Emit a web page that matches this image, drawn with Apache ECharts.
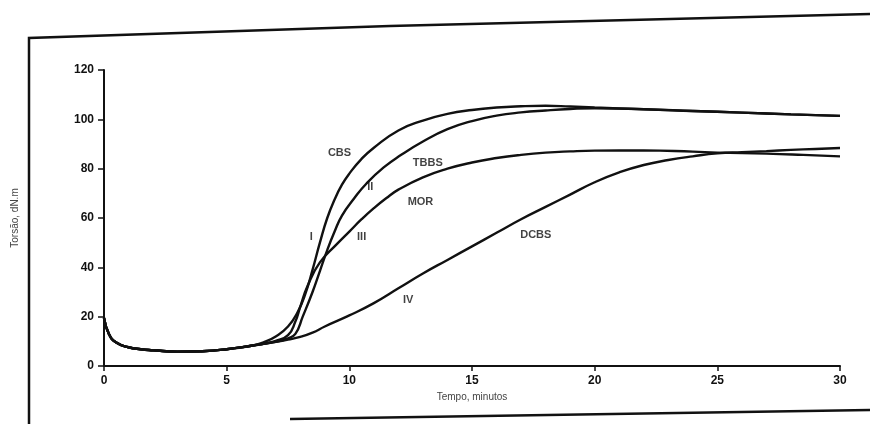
<!DOCTYPE html>
<html>
<head>
<meta charset="utf-8">
<script src="https://cdn.jsdelivr.net/npm/echarts@6/dist/echarts.min.js"></script>
<style>
  html, body { margin: 0; padding: 0; background: #fff; }
  #chart { width: 870px; height: 424px; }
</style>
</head>
<body>
<div id="chart"></div>
<script>
  // trecho comum (antes da vulcanização)
  const inicioTempo = [0, 0.2, 0.5, 1, 1.5, 2, 3, 4, 5, 6];
  const inicioTorsao = [19.5, 13, 9.5, 7.6, 6.8, 6.4, 5.8, 6.0, 6.8, 8.2];

  const cbsTempo = [6.5, 7, 7.5, 7.9, 8.2, 8.5, 8.8, 9.1, 9.4, 9.7, 10, 10.5, 11, 12, 13, 14, 15, 16, 17, 18, 19, 20, 22, 24, 26, 28, 30];
  const cbsTorsao = [9.6, 12, 16, 22, 29, 39, 50, 60, 67.5, 73.5, 78, 84, 88.5, 95.5, 99.5, 102.2, 103.8, 104.8, 105.3, 105.5, 105.2, 104.8, 104.1, 103.4, 102.7, 102, 101.4];

  const tbbsTempo = [6.5, 7, 7.5, 7.8, 8.1, 8.5, 8.8, 9.1, 9.4, 9.7, 10.2, 10.7, 11.4, 12.1, 13, 14, 15, 16, 17, 18, 19, 20, 22, 24, 26, 28, 30];
  const tbbsTorsao = [9.0, 9.8, 11.2, 13, 20, 30, 38.5, 47, 54.5, 61, 68, 74, 80.5, 85.5, 91, 96, 99.3, 101.5, 102.8, 103.6, 104.2, 104.5, 104.1, 103.4, 102.7, 102, 101.4];

  const morTempo = [6.5, 7, 7.5, 7.8, 8, 8.3, 8.8, 9.5, 10, 10.5, 11, 11.5, 12, 13, 14, 15, 16, 17, 18, 19, 20, 22, 24, 25, 27, 28.5, 30];
  const morTorsao = [9.0, 10.2, 12.5, 18, 24, 32.5, 42, 49.5, 54.5, 59.5, 64, 68, 71.5, 76.5, 80, 82.5, 84.3, 85.6, 86.5, 87, 87.3, 87.4, 86.9, 86.5, 86.1, 85.6, 85.0];

  const dcbsTempo = [6.5, 7, 7.5, 8, 8.5, 9, 10, 11, 12, 13, 14, 15, 16, 17, 18, 19, 20, 21, 22, 23, 24, 25, 26, 27, 28, 29, 30];
  const dcbsTorsao = [9.0, 9.8, 10.7, 11.8, 13.5, 16, 20.5, 25.5, 31.5, 37.5, 43, 48.5, 54, 59.5, 64.5, 69.5, 74.5, 78.5, 81.5, 83.5, 85, 86.2, 86.7, 87.1, 87.6, 88.0, 88.4];

  // rótulos das curvas (em unidades dos eixos)
  const rotulos = ['CBS', 'TBBS', 'MOR', 'DCBS', 'I', 'II', 'III', 'IV'];
  const rotulosTempo = [9.6, 13.2, 12.9, 17.6, 8.45, 10.85, 10.5, 12.4];
  const rotulosTorsao = [86.3, 82.3, 66.5, 53.1, 52.3, 72.6, 52.3, 26.8];

  const xTicks = [0, 5, 10, 15, 20, 25, 30];
  const yTicks = [0, 20, 40, 60, 80, 100, 120];

  function curva(tempo, torsao) {
    const pts = inicioTempo.map((t, i) => [t, inicioTorsao[i]]);
    return pts.concat(tempo.map((t, i) => [t, torsao[i]]));
  }

  const nomes = ['CBS', 'TBBS', 'MOR', 'DCBS'];
  const dados = [
    curva(cbsTempo, cbsTorsao),
    curva(tbbsTempo, tbbsTorsao),
    curva(morTempo, morTorsao),
    curva(dcbsTempo, dcbsTorsao),
  ];

  const series = dados.map((d, i) => {
    return {
      name: nomes[i],
      type: 'line',
      smooth: 0.5,
      symbol: 'none',
      lineStyle: { color: '#111', width: 2.4 },
      data: d,
      z: 3,
    };
  });

  series.push({
    type: 'scatter',
    symbolSize: 0,
    data: rotulos.map((r, i) => [rotulosTempo[i], rotulosTorsao[i], r]),
    label: {
      show: true,
      position: 'inside',
      formatter: (p) => p.data[2],
      color: '#111',
      fontSize: 11,
      fontWeight: 'bold',
      fontFamily: 'Liberation Sans, Arial, sans-serif',
    },
    silent: true,
    z: 4,
  });

  const myChart = echarts.init(document.getElementById('chart'), null, { renderer: 'canvas' });

  myChart.setOption({
    backgroundColor: '#fff',
    animation: false,
    grid: { left: 104, right: 30, top: 70, bottom: 58 },
    xAxis: {
      type: 'value',
      min: xTicks[0],
      max: xTicks[xTicks.length - 1],
      interval: 5,
      name: 'Tempo, minutos',
      nameLocation: 'middle',
      nameGap: 25,
      nameTextStyle: { color: '#444', fontSize: 10, fontFamily: 'Liberation Sans, Arial, sans-serif' },
      splitLine: { show: false },
      axisLine: { lineStyle: { color: '#111', width: 2 } },
      axisTick: { length: 5, lineStyle: { color: '#111', width: 1.5 } },
      axisLabel: {
        margin: 9,
        color: '#111',
        fontSize: 12,
        fontWeight: 'bold',
        fontFamily: 'Liberation Sans, Arial, sans-serif',
      },
    },
    yAxis: {
      type: 'value',
      min: yTicks[0],
      max: yTicks[yTicks.length - 1],
      interval: 20,
      name: 'Torsão, dN.m',
      nameLocation: 'middle',
      nameGap: 84,
      nameRotate: 90,
      nameTextStyle: { color: '#444', fontSize: 10, fontFamily: 'Liberation Sans, Arial, sans-serif' },
      splitLine: { show: false },
      axisLine: { show: true, lineStyle: { color: '#111', width: 2 } },
      axisTick: { show: true, length: 6, lineStyle: { color: '#111', width: 1.5 } },
      axisLabel: {
        margin: 10,
        color: '#111',
        fontSize: 12,
        fontWeight: 'bold',
        fontFamily: 'Liberation Sans, Arial, sans-serif',
      },
    },
    // moldura da figura digitalizada
    graphic: [
      { type: 'polyline', shape: { points: [[29, 424], [29, 38], [390, 26], [870, 14]] }, style: { stroke: '#111', lineWidth: 2.5, fill: null } },
      { type: 'polyline', shape: { points: [[290, 419], [870, 410]] }, style: { stroke: '#111', lineWidth: 2.5, fill: null } },
    ],
    series,
  });
</script>
</body>
</html>
